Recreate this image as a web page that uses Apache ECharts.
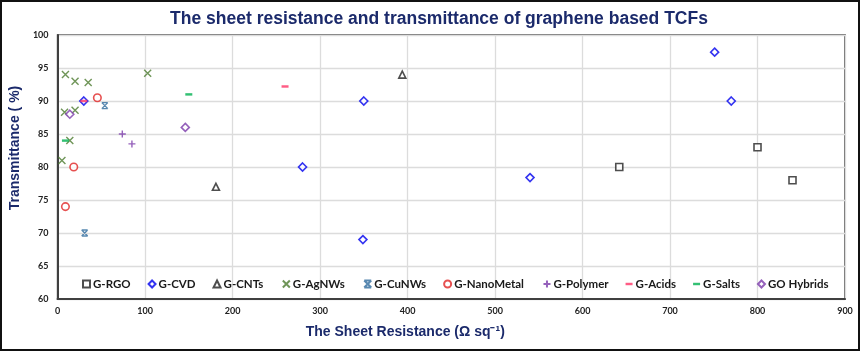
<!DOCTYPE html>
<html>
<head>
<meta charset="utf-8">
<script src="https://cdn.jsdelivr.net/npm/echarts@6/dist/echarts.min.js"></script>
<style>
  html, body { margin: 0; padding: 0; background: #fff; }
  #chart { width: 860px; height: 351px; }
</style>
</head>
<body>
<div id="chart"></div>
<script>
// [sheet resistance (Ω/sq), transmittance (%)]
const rgo = [[642, 80], [800, 83], [840, 78]]
const cvd = [[30, 90], [280, 80], [350, 90], [349, 69], [540, 78.4], [751, 97.4], [770, 90]]
const cnts = [[181, 77], [394, 94]]
const agnws = [[9, 94], [20, 93], [35, 92.8], [103, 94.2], [8, 88.3], [20, 88.6], [14, 84], [5, 81]]
const cunws = [[54, 89.3], [31, 70]]
const nanoMetal = [[45.5, 90.5], [18.5, 80], [9, 74]]
const polymer = [[74, 85], [85, 83.5]]
const acids = [[30, 90], [260, 92.2]]
const salts = [[9, 84], [150, 91]]
const goHybrids = [[14, 88], [146, 86]]

const xTicks = [0, 900, 100]
const yTicks = [60, 100, 5]

const crossPath = 'path://M0,0L10,10M10,0L0,10'
const plusPath = 'path://M5,0L5,10M0,5L10,5'
const bowPath = 'path://M0,0L10,0M0,10L10,10M0,0L10,10M10,0L0,10'
const dashPath = 'path://M0,0L10,0L10,3.5L0,3.5Z'

function hollow(name, data, symbol, color, size) {
  return {
    name: name,
    type: 'scatter',
    data: data,
    symbol: symbol,
    symbolSize: size,
    itemStyle: { color: '#fff', borderColor: color, borderWidth: 1.6 },
    emphasis: { disabled: true }
  }
}

function stroke(name, data, symbol, color, size) {
  return {
    name: name,
    type: 'scatter',
    data: data,
    symbol: symbol,
    symbolSize: size,
    itemStyle: { color: 'none', borderColor: color, borderWidth: 1.4 },
    emphasis: { disabled: true }
  }
}

function dash(name, data, color) {
  return {
    name: name,
    type: 'scatter',
    data: data,
    symbol: dashPath,
    symbolKeepAspect: true,
    symbolSize: 7,
    itemStyle: { color: color },
    emphasis: { disabled: true }
  }
}

const navy = '#1b2a6b'

const myChart = echarts.init(document.getElementById('chart'))
myChart.setOption({
  animation: false,
  title: {
    text: 'The sheet resistance and transmittance of graphene based TCFs',
    left: 434,
    textAlign: 'center',
    top: 5,
    textStyle: {
      fontFamily: '"Liberation Sans", Arial, sans-serif',
      fontSize: 17.5,
      fontWeight: 'bold',
      color: navy
    }
  },
  graphic: [{
    type: 'rect',
    shape: { x: 1, y: 1, width: 858, height: 349 },
    style: { fill: 'none', stroke: '#111', lineWidth: 2 },
    silent: true
  }],
  grid: {
    left: 53,
    right: 15,
    top: 35,
    bottom: 52,
    show: true,
    borderColor: '#404040',
    borderWidth: 1.5
  },
  legend: {
    top: 273,
    left: 77,
    width: 775,
    itemGap: 17,
    itemWidth: 7,
    itemHeight: 7,
    textStyle: {
      fontFamily: 'Lato, sans-serif',
      fontSize: 11.5,
      fontWeight: 'bold',
      color: '#1a1a1a',
      padding: [0, 0, 0, -2]
    },
    data: ['G-RGO', 'G-CVD', 'G-CNTs', 'G-AgNWs', 'G-CuNWs', 'G-NanoMetal', 'G-Polymer', 'G-Acids', 'G-Salts', 'GO Hybrids']
  },
  xAxis: {
    type: 'value',
    min: xTicks[0],
    max: xTicks[1],
    interval: xTicks[2],
    name: 'The Sheet Resistance (Ω sq⁻¹)',
    nameLocation: 'middle',
    nameGap: 26,
    nameTextStyle: {
      fontFamily: '"Liberation Sans", Arial, sans-serif',
      fontSize: 14,
      fontWeight: 'bold',
      color: navy,
      padding: [0, 92, 0, 0]
    },
    axisLine: { lineStyle: { color: '#404040', width: 2 } },
    axisTick: { show: false },
    axisLabel: { margin: 8, fontFamily: 'Lato, sans-serif', fontSize: 9, fontWeight: 'bold', color: '#222' },
    splitLine: { lineStyle: { color: '#dcdcdc', width: 1.3 } }
  },
  yAxis: {
    type: 'value',
    min: yTicks[0],
    max: yTicks[1],
    interval: yTicks[2],
    name: 'Transmittance ( %)',
    nameLocation: 'middle',
    nameGap: 31,
    nameTextStyle: {
      fontFamily: '"Liberation Sans", Arial, sans-serif',
      fontSize: 14,
      fontWeight: 'bold',
      color: navy,
      padding: [0, 0, 0, 38]
    },
    axisLine: { show: true, lineStyle: { color: '#404040', width: 2 } },
    axisTick: { show: false },
    axisLabel: { margin: 9, fontFamily: 'Lato, sans-serif', fontSize: 9, fontWeight: 'bold', color: '#222' },
    splitLine: { lineStyle: { color: '#dcdcdc', width: 1.3 } }
  },
  series: [
    hollow('G-RGO', rgo, 'rect', '#222', 7),
    hollow('G-CVD', cvd, 'diamond', '#0000ee', 8),
    hollow('G-CNTs', cnts, 'triangle', '#222', 7),
    stroke('G-AgNWs', agnws, crossPath, '#4b7a2e', 7),
    stroke('G-CuNWs', cunws, bowPath, '#2e6a9c', 6),
    hollow('G-NanoMetal', nanoMetal, 'circle', '#e02424', 7.5),
    stroke('G-Polymer', polymer, plusPath, '#7a3aaa', 7),
    dash('G-Acids', acids, '#ff3366'),
    dash('G-Salts', salts, '#00b050'),
    hollow('GO Hybrids', goHybrids, 'diamond', '#7a3aaa', 8)
  ]
})
</script>
</body>
</html>
